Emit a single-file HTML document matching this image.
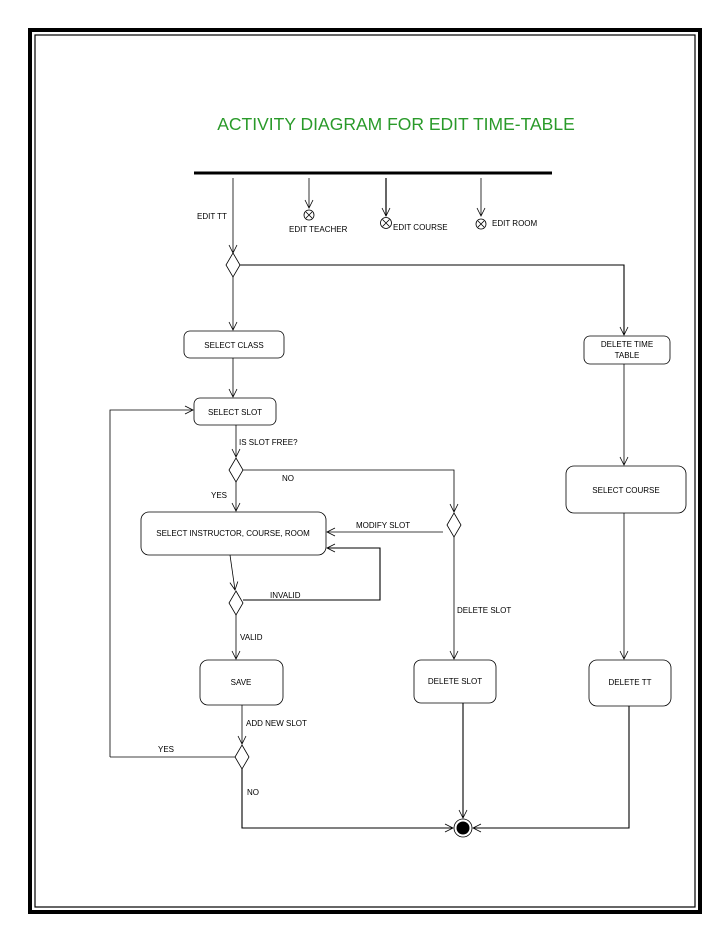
<!DOCTYPE html>
<html><head><meta charset="utf-8"><style>
html,body{margin:0;padding:0;background:#fff;}
svg{display:block;}
text{font-family:"Liberation Sans",sans-serif;font-size:8px;fill:#000;}
</style></head><body>
<svg width="728" height="942" viewBox="0 0 728 942" xmlns="http://www.w3.org/2000/svg">
<defs>
<marker id="a" markerWidth="10" markerHeight="10" refX="9" refY="5" orient="auto" markerUnits="userSpaceOnUse">
<path d="M1,1 L9,5 L1,9" fill="none" stroke="#000" stroke-width="0.8"/></marker>
</defs>
<rect x="30" y="30" width="670" height="882" fill="none" stroke="#000" stroke-width="4"/>
<rect x="35" y="35" width="660" height="872" fill="none" stroke="#000" stroke-width="1.2"/>
<text x="396" y="130" text-anchor="middle" style="font-size:17.5px;fill:#2a9a2a">ACTIVITY DIAGRAM FOR EDIT TIME-TABLE</text>
<line x1="194" y1="173" x2="552" y2="173" stroke="#000" stroke-width="3"/>
<g stroke="#000" stroke-width="0.8" fill="none">
<line x1="233" y1="178" x2="233" y2="253" marker-end="url(#a)"/>
<line x1="309" y1="178" x2="309" y2="208" marker-end="url(#a)"/>
<line x1="386" y1="178" x2="386" y2="216" marker-end="url(#a)" stroke-width="1.2"/>
<line x1="481" y1="178" x2="481" y2="216" marker-end="url(#a)"/>
<circle cx="309" cy="215" r="5"/><path d="M306,212 L312,218 M312,212 L306,218"/>
<circle cx="386" cy="223" r="5.5"/><path d="M382.5,219.5 L389.5,226.5 M389.5,219.5 L382.5,226.5"/>
<circle cx="481" cy="224" r="5"/><path d="M478,221 L484,227 M484,221 L478,227"/>
<path d="M233,253 L240,265 L233,277 L226,265 Z" fill="#fff"/>
<path d="M236,458 L243,470 L236,482 L229,470 Z" fill="#fff"/>
<path d="M454,513 L461,525 L454,537 L447,525 Z" fill="#fff"/>
<path d="M236,591 L243,603 L236,615 L229,603 Z" fill="#fff"/>
<path d="M242,745 L249,757 L242,769 L235,757 Z" fill="#fff"/>
<polyline points="240,265 624,265 624,335" marker-end="url(#a)" stroke-width="1.1"/>
<line x1="233" y1="277" x2="233" y2="330" marker-end="url(#a)"/>
<rect x="184" y="331" width="100" height="27" rx="6"/>
<rect x="584" y="336" width="86" height="28" rx="6"/>
<line x1="233" y1="358" x2="233" y2="397" marker-end="url(#a)"/>
<rect x="194" y="398" width="82" height="27" rx="6"/>
<polyline points="110,757 110,410 193,410" marker-end="url(#a)"/>
<line x1="236" y1="425" x2="236" y2="457" marker-end="url(#a)"/>
<polyline points="243,470 454,470 454,512" marker-end="url(#a)"/>
<line x1="236" y1="482" x2="236" y2="511" marker-end="url(#a)"/>
<rect x="141" y="512" width="185" height="43" rx="8"/>
<line x1="443" y1="532" x2="327" y2="532" marker-end="url(#a)"/>
<polyline points="243,600 380,600 380,548 327,548" marker-end="url(#a)" stroke-width="1.1"/>
<line x1="230" y1="555" x2="235" y2="590" marker-end="url(#a)"/>
<line x1="236" y1="615" x2="236" y2="659" marker-end="url(#a)"/>
<rect x="200" y="660" width="83" height="45" rx="8"/>
<line x1="242" y1="705" x2="242" y2="744" marker-end="url(#a)"/>
<line x1="235" y1="757" x2="110" y2="757"/>
<line x1="454" y1="537" x2="454" y2="659" marker-end="url(#a)"/>
<rect x="414" y="660" width="82" height="43" rx="7"/>
<line x1="463" y1="703" x2="463" y2="818" marker-end="url(#a)" stroke-width="1.1"/>
<line x1="624" y1="364" x2="624" y2="465" marker-end="url(#a)"/>
<rect x="566" y="466" width="120" height="47" rx="8"/>
<line x1="624" y1="513" x2="624" y2="659" marker-end="url(#a)"/>
<rect x="589" y="660" width="82" height="46" rx="8"/>
<polyline points="242,769 242,828 453,828" marker-end="url(#a)" stroke-width="1.1"/>
<polyline points="629,706 629,828 473,828" marker-end="url(#a)" stroke-width="1.1"/>
<circle cx="463" cy="828" r="9"/>
</g>
<circle cx="463" cy="828" r="6.5" fill="#000"/>
<text x="197" y="219">EDIT TT</text>
<text x="289" y="232">EDIT TEACHER</text>
<text x="393" y="230">EDIT COURSE</text>
<text x="492" y="226">EDIT ROOM</text>
<text x="234" y="348" text-anchor="middle">SELECT CLASS</text>
<text x="627" y="347" text-anchor="middle">DELETE TIME</text>
<text x="627" y="358" text-anchor="middle">TABLE</text>
<text x="235" y="415" text-anchor="middle">SELECT SLOT</text>
<text x="239" y="445">IS SLOT FREE?</text>
<text x="282" y="481">NO</text>
<text x="211" y="498">YES</text>
<text x="626" y="493" text-anchor="middle">SELECT COURSE</text>
<text x="233" y="536" text-anchor="middle">SELECT INSTRUCTOR, COURSE, ROOM</text>
<text x="356" y="528">MODIFY SLOT</text>
<text x="270" y="598">INVALID</text>
<text x="457" y="613">DELETE SLOT</text>
<text x="240" y="640">VALID</text>
<text x="241" y="685" text-anchor="middle">SAVE</text>
<text x="455" y="684" text-anchor="middle">DELETE SLOT</text>
<text x="630" y="685" text-anchor="middle">DELETE TT</text>
<text x="246" y="726">ADD NEW SLOT</text>
<text x="158" y="752">YES</text>
<text x="247" y="795">NO</text>
</svg>
</body></html>
